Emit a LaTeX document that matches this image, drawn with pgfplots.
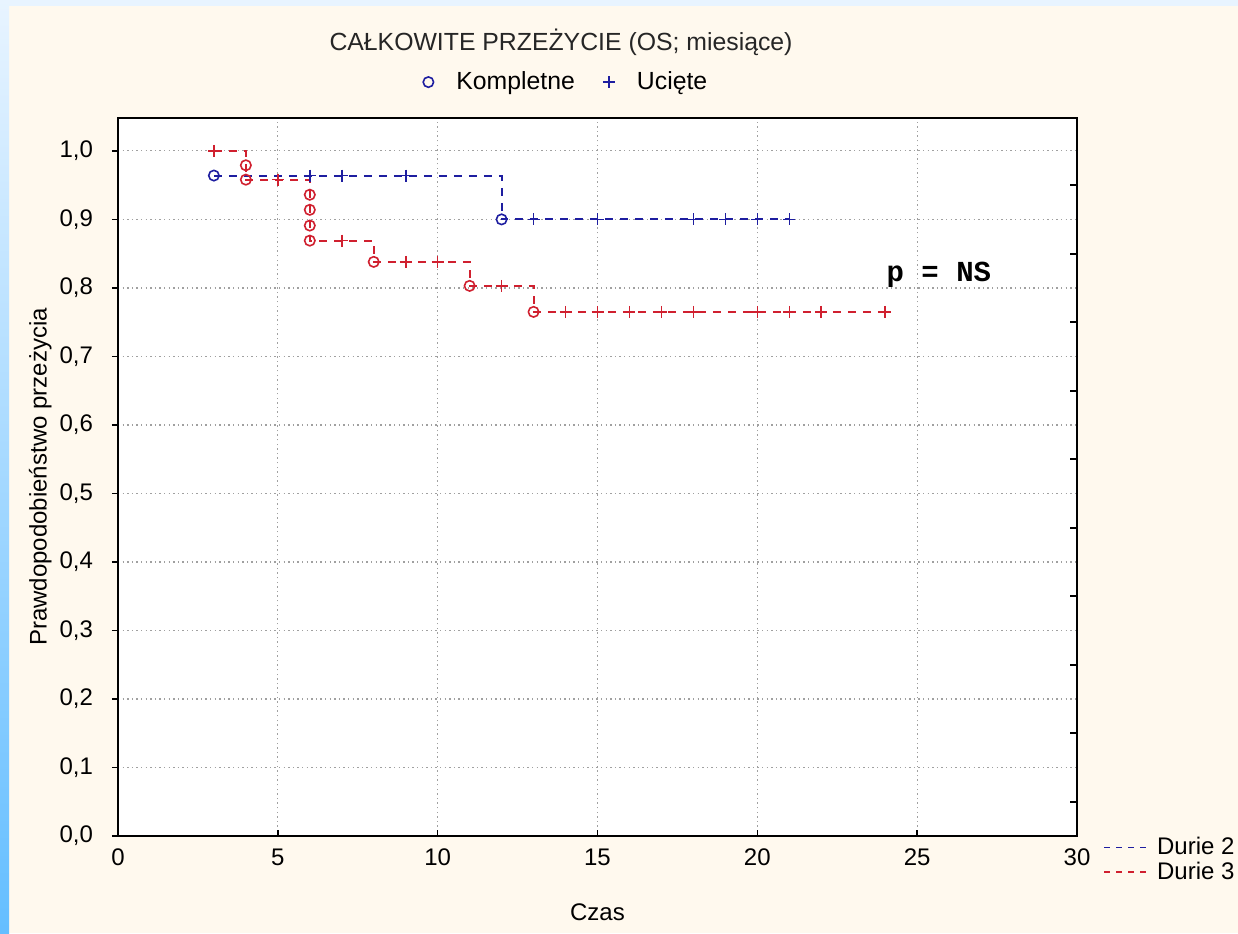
\documentclass[border=0pt]{standalone}
\usepackage{fontspec}
\setmainfont{Liberation Sans}
\newfontfamily\monofont{Liberation Mono}
\usepackage{pgfplots}
\pgfplotsset{compat=1.18}
\definecolor{dblue}{HTML}{1E1EA0}
\definecolor{dred}{HTML}{D0202F}
\definecolor{cream}{HTML}{FFF9EE}
\definecolor{topblue}{HTML}{E8F4FF}
\definecolor{gridgray}{HTML}{A0A0A0}
\definecolor{stripblue}{HTML}{64BEFF}
\begin{document}
\begin{tikzpicture}[x=0.5pt,y=0.5pt]
\useasboundingbox (0,0) rectangle (1238,933);
\fill[cream] (0,0) rectangle (1238,933);
\fill[topblue] (0,927) rectangle (1238,933);
\shade[top color=topblue, bottom color=stripblue] (0,0) rectangle (9,933);
\node[font=\fontsize{12.4}{14}\selectfont, text=black!85] at (561,891) {CAŁKOWITE PRZEŻYCIE (OS; miesiące)};
\begin{axis}[
  at={(59pt,48.5pt)}, anchor=south west, scale only axis,
  width=479.5pt, height=359pt,
  xmin=0, xmax=30, ymin=0, ymax=1.048,
  axis background/.style={fill=white},
  xtick={0,5,10,15,20,25,30},
  ytick={0,0.1,0.2,0.3,0.4,0.5,0.6,0.7,0.8,0.9,1.0},
  xtick pos=bottom, ytick pos=left,
  xtick align=inside, ytick align=outside,
  major tick length=3pt,
  tick style={black, line width=0.8pt},
  axis line style={black, line width=1.2pt},
  grid=major,
  major grid style={gridgray, line width=0.6pt, dash pattern=on 0.7pt off 1.6pt},
  /pgf/number format/assume math mode=true,
  ticklabel style={font=\fontsize{12}{14}\selectfont},
  yticklabel style={xshift=-6pt, /pgf/number format/.cd, fixed, fixed zerofill, precision=1, use comma},
  xticklabel style={yshift=-3pt, /pgf/number format/.cd, fixed},
  xlabel={Czas},
  ylabel={Prawdopodobieństwo przeżycia},
  label style={font=\fontsize{12}{14}\selectfont},
  xlabel style={at={(axis description cs:0.5,-0.106)}, anchor=center},
  ylabel style={at={(axis description cs:-0.081,0.5)}, anchor=center},
  legend style={draw=none, fill=none, at={(axis description cs:1.021,0.010)}, anchor=north west,
    font=\fontsize{12}{14}\selectfont, row sep=-1.8pt},
  legend cell align=left,
  legend image code/.code={\draw[#1, line width=0.8pt, dash pattern=on 3pt off 3pt] (0pt,0pt) -- (24pt,0pt);},
  clip=false,
]
\addplot[const plot, color=dblue, line width=1pt, dash pattern=on 4pt off 3.5pt] coordinates {(3,0.964)(12,0.9)(21,0.9)};
\addlegendentry{Durie 2}
\addplot[const plot, color=dred, line width=1pt, dash pattern=on 4pt off 3.5pt] coordinates {(3,1.0)(4,0.958)(6,0.869)(8,0.838)(11,0.803)(13,0.765)(24,0.765)};
\addlegendentry{Durie 3}
% events
\addplot[forget plot, only marks, mark=o, color=dblue, mark size=2.6pt, mark options={line width=0.8pt, solid}] coordinates {(3,0.964)(12,0.9)};
\addplot[forget plot, only marks, mark=o, color=dred, mark size=2.6pt, mark options={line width=0.8pt, solid}] coordinates {(4,0.979)(4,0.958)(6,0.936)(6,0.914)(6,0.891)(6,0.869)(8,0.838)(11,0.803)(13,0.765)};
% censored
\addplot[forget plot, only marks, mark=+, color=dblue, mark size=3pt, mark options={line width=0.8pt, solid}] coordinates {(6,0.964)(7,0.964)(9,0.964)(13,0.9)(15,0.9)(18,0.9)(19,0.9)(20,0.9)(21,0.9)};
\addplot[forget plot, only marks, mark=+, color=dred, mark size=3pt, mark options={line width=0.8pt, solid}] coordinates {(3,1.0)(5,0.958)(7,0.869)(9,0.838)(10,0.838)(12,0.803)(14,0.765)(15,0.765)(16,0.765)(17,0.765)(18,0.765)(20,0.765)(21,0.765)(22,0.765)(24,0.765)};
\node[font=\monofont\bfseries\fontsize{14.5}{16}\selectfont] at (axis cs:25.68,0.819) {p = NS};
\end{axis}
% overlay axis: right ticks and marker legend
\begin{axis}[
  at={(59pt,48.5pt)}, anchor=south west, scale only axis,
  width=479.5pt, height=359pt,
  xmin=0, xmax=30, ymin=0, ymax=1.048,
  axis y line*=right, axis x line=none,
  y axis line style={draw=none},
  ytick={0.05,0.15,0.25,0.35,0.45,0.55,0.65,0.75,0.85,0.95},
  yticklabels={},
  tick align=inside,
  major tick length=3.5pt,
  tick style={black, line width=1pt},
  legend columns=2,
  legend image code/.code={\draw[#1, mark repeat=2, mark phase=2] plot coordinates {(-3pt,0pt)(0pt,0pt)(3pt,0pt)}; \node[draw=none, fill=none, inner sep=0pt, minimum width=15pt, minimum height=1pt] at (4.5pt,0pt) {};},
  legend style={draw=none, fill=none, at={(axis description cs:0.468,1.05)}, anchor=center,
    font=\fontsize{12.4}{14}\selectfont,
    /tikz/every even column/.append style={column sep=12pt}},
]
\addlegendimage{only marks, mark=o, color=dblue, mark size=2.6pt, mark options={line width=0.8pt}}
\addlegendentry{Kompletne}
\addlegendimage{only marks, mark=+, color=dblue, mark size=3pt, mark options={line width=0.8pt}}
\addlegendentry{Ucięte}
\end{axis}
\end{tikzpicture}
\end{document}
